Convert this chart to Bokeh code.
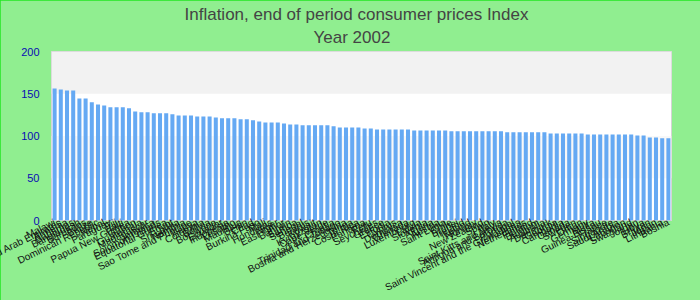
from bokeh.plotting import figure
from bokeh.models import (FactorRange, Range1d, BoxAnnotation, Title,
                          ColumnDataSource, FixedTicker)
from bokeh.embed import file_html
from bokeh.resources import INLINE

title_line1 = "Inflation, end of period consumer prices  Index"
title_line2 = "Year 2002"

countries = [
    "Malawi", "United Arab Emirates", "Armenia", "Bahamas", "Bangladesh",
    "Barbados", "Belize", "Dominican Republic", "Nepal", "Paraguay",
    "Fiji", "Haiti", "Papua New Guinea", "Gabon", "Guatemala",
    "Madagascar", "Jamaica", "Solomon Islands", "Equatorial Guinea", "Egypt",
    "Sri Lanka", "Namibia", "Sao Tome and Principe", "Kenya", "Colombia",
    "Bolivia", "Botswana", "Ecuador", "Indonesia", "Lesotho",
    "Mauritius", "Benin", "Chad", "Burkina Faso", "Mali",
    "Honduras", "Niger", "East Timor", "Bahrain", "Samoa",
    "Senegal", "Belarus", "Kuwait", "Kyrgyzstan", "Cape Verde",
    "Croatia", "Trinidad and Tobago", "Bosnia and Herzegovina", "Tonga", "Costa Rica",
    "Panama", "Peru", "Seychelles", "Greece", "Estonia",
    "Cyprus", "Dominica", "Grenada", "Luxembourg", "Latvia",
    "Slovenia", "Algeria", "Austria", "Saint Lucia", "Chile",
    "Brunei", "Ireland", "Iceland", "Norway", "New Zealand",
    "Spain", "Italy", "Saint Kitts and Nevis", "Antigua and Barbuda", "Portugal",
    "Saint Vincent and the Grenadines", "Netherlands", "Finland", "Belgium", "Australia",
    "Denmark", "Georgia", "Cambodia", "Canada", "Sweden",
    "Oman", "Germany", "Malta", "Guinea-Bissau", "France",
    "Singapore", "Saudi Arabia", "Lebanon", "Swaziland", "Jordan",
    "Libya", "Bhutan", "Japan", "Lithuania", "Bosnia",
]

index_values = [
    156.2, 155.0, 153.8, 153.8, 144.5, 144.5, 139.8, 137.4, 136.2, 133.9,
    133.9, 133.9, 132.7, 129.1, 128.0, 128.0, 126.8, 126.8, 126.8, 125.6,
    124.4, 124.4, 124.4, 123.2, 123.2, 123.2, 122.0, 120.9, 120.9, 120.9,
    119.7, 119.7, 118.5, 117.3, 116.1, 116.1, 116.1, 114.9, 113.7, 113.7,
    112.6, 112.6, 112.6, 112.6, 112.6, 111.4, 110.2, 110.2, 110.2, 110.2,
    109.0, 109.0, 107.8, 107.8, 107.8, 107.8, 107.8, 107.8, 106.6, 106.6,
    106.6, 106.6, 106.6, 106.6, 105.5, 105.5, 105.5, 105.5, 105.5, 105.5,
    105.5, 105.5, 105.5, 104.3, 104.3, 104.3, 104.3, 104.3, 104.3, 104.3,
    103.1, 103.1, 103.1, 103.1, 103.1, 103.1, 101.9, 101.9, 101.9, 101.9,
    101.9, 101.9, 101.9, 101.9, 100.7, 100.7, 98.3, 98.3, 97.2, 97.2,
]

y_ticks = [0, 50, 100, 150, 200]

source = ColumnDataSource(dict(country=countries, value=index_values))

TITLE_FONT = "Liberation Sans"

p = figure(
    x_range=FactorRange(*countries, range_padding=0),
    y_range=Range1d(0, 200),
    width=700, height=300,
    output_backend="svg", toolbar_location=None,
    min_border_left=51, min_border_right=29,
    min_border_top=51, min_border_bottom=80,
    background_fill_color="white",
    border_fill_color="#90EE90",
)
p.styles = {"outline": "2px solid #22e622", "outline-offset": "-2px"}

# two-line title (line 2 is added first, so it sits closest to the frame)
p.add_layout(Title(text=title_line2, align="left", offset=262, text_font=TITLE_FONT,
                   text_font_size="17px", text_color="#444444",
                   text_font_style="normal", standoff=5, vertical_align="top"), "above")
p.add_layout(Title(text=title_line1, align="left", offset=133, text_font=TITLE_FONT,
                   text_font_size="17px", text_color="#444444",
                   text_font_style="normal", standoff=2, vertical_align="middle"), "above")

p.outline_line_color = "#d4d4d4"
p.outline_line_width = 1

p.xgrid.visible = False
p.ygrid.visible = False

p.add_layout(BoxAnnotation(bottom=150, top=200, fill_color="#f2f2f2", fill_alpha=1,
                           line_alpha=0, level="underlay"))
p.add_layout(BoxAnnotation(bottom=50, top=100, fill_color="#f8f8f8", fill_alpha=1,
                           line_alpha=0, level="underlay"))

p.vbar(x="country", top="value", width=0.65, source=source,
       fill_color="#65a9f3", line_color=None)

# y axis
p.yaxis.ticker = FixedTicker(ticks=y_ticks)
p.yaxis.axis_line_color = None
p.yaxis.major_tick_line_color = None
p.yaxis.minor_tick_line_color = None
p.yaxis.major_tick_out = 0
p.yaxis.minor_tick_out = 0
p.yaxis.major_label_text_color = "#0a0ab4"
p.yaxis.major_label_text_font = "Liberation Sans"
p.yaxis.major_label_text_font_size = "11px"
p.yaxis.major_label_standoff = 12

# x axis with rotated country names
p.xaxis.axis_line_color = None
p.xaxis.major_tick_line_color = None
p.xaxis.minor_tick_line_color = None
p.xaxis.major_tick_out = 0
p.xaxis.minor_tick_out = 0
p.xaxis.major_label_orientation = 0.46
p.xaxis.major_label_text_font = "Liberation Sans"
p.xaxis.major_label_text_font_size = "10px"
p.xaxis.major_label_text_color = "#111111"
p.xaxis.major_label_standoff = 1

open("out.html", "w").write(file_html(p, INLINE))
